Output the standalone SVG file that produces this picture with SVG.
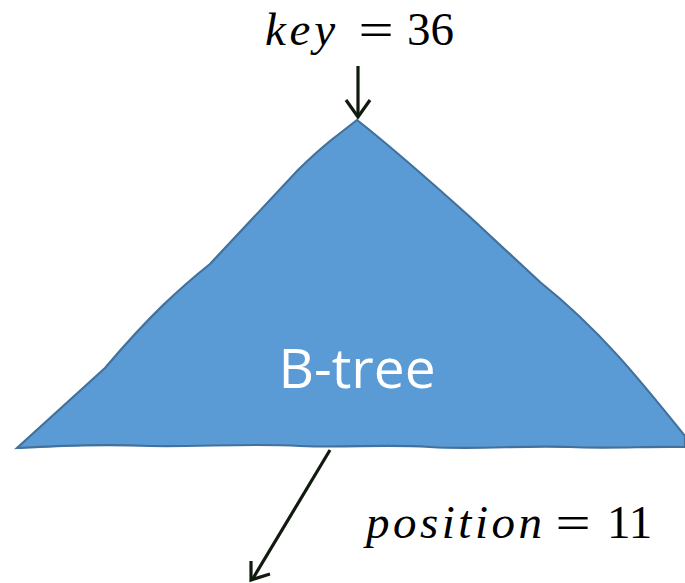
<svg xmlns="http://www.w3.org/2000/svg" width="685" height="583" viewBox="0 0 685 583">
<style>
.math{font-family:"Liberation Serif","DejaVu Serif",serif;font-size:47px;fill:#000}
.it{font-style:italic}
.eq{font-size:48px}
.lbl{font-family:"Open Sans","Liberation Sans",sans-serif;font-size:55px;fill:#fff}
.conn{stroke:#111a0e;stroke-width:3.2;fill:none}
</style>
<g id="btree">
<path d="M357,120 L330,141 C318,151 308,160 298,170 L210,264 C180,288 150,315 105,368 L17,448 C60,446 100,444 150,446 C200,447 250,443 300,446 C350,448 380,444 430,447 C480,450 520,445 570,447 C610,449 650,446 685,447 L685,436 C640,380 600,330 540,282 L470,217 C420,172 385,142 357,120 Z" fill="#5b9bd5" stroke="#41719c" stroke-width="2.2"/>
<text class="lbl" x="357" y="388" text-anchor="middle">B-tree</text>
</g>
<g id="key">
<text class="math" x="265" y="45"><tspan class="it" textLength="70" lengthAdjust="spacing">key</tspan></text>
<text class="math eq" transform="translate(376,46) scale(1.3,1)" text-anchor="middle">=</text>
<text class="math" x="407" y="45">36</text>
</g>
<g id="position">
<text class="math" x="366" y="538"><tspan class="it" textLength="176" lengthAdjust="spacing">position</tspan></text>
<text class="math eq" transform="translate(573,539) scale(1.3,1)" text-anchor="middle">=</text>
<text class="math" x="607" y="538">11</text>
</g>
<g id="connectors">
<line class="conn" x1="358" y1="66" x2="358" y2="117"/>
<line class="conn" x1="330" y1="450" x2="252" y2="580"/>
<path class="conn" d="M346,100 L358,117 L370,100"/>
<path class="conn" d="M251,561 L251,580 L270,574"/>
</g>
</svg>
